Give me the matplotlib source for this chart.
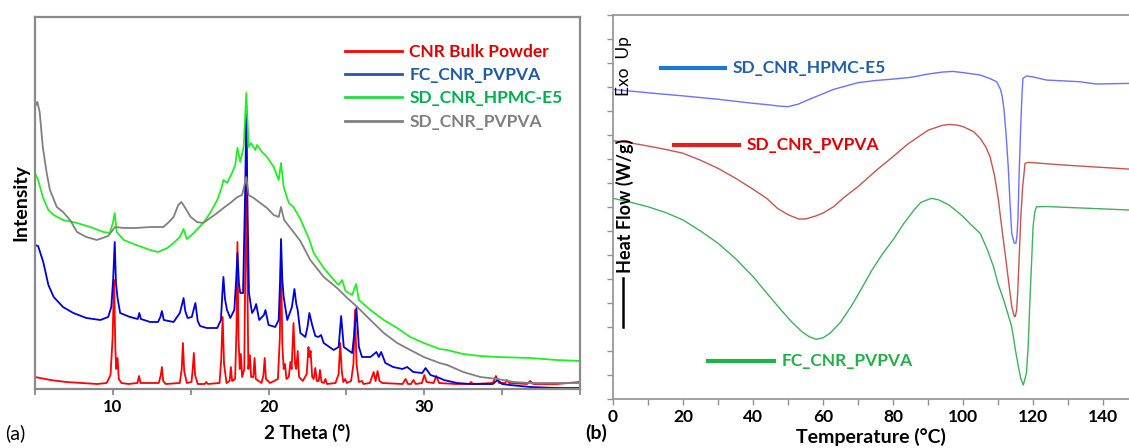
import numpy as np
import matplotlib
matplotlib.use("Agg")
import matplotlib.pyplot as plt

plt.rcParams['font.family'] = ['Lato', 'DejaVu Sans']

# ---------------- XRD data (2 theta, intensity a.u.) ----------------
cnr_bulk = [(5.0, 12), (6.0, 9), (7.0, 7), (8.0, 6), (9.0, 5), (9.6, 6), (9.85, 14), (9.98, 50),
            (10.08, 109), (10.16, 40), (10.22, 20), (10.3, 31), (10.38, 10), (10.55, 6), (11.0, 5),
            (11.58, 6), (11.68, 13), (11.78, 6), (12.95, 6), (13.08, 14), (13.15, 22), (13.23, 8),
            (13.4, 5), (14.3, 6), (14.42, 20), (14.5, 46), (14.58, 18), (14.75, 6), (15.05, 7),
            (15.13, 20), (15.2, 36), (15.28, 14), (15.45, 5), (15.9, 5), (16.0, 7), (16.1, 5),
            (16.85, 6), (16.96, 30), (17.05, 72), (17.14, 25), (17.3, 6), (17.5, 8), (17.58, 22),
            (17.66, 8), (17.85, 10), (17.94, 60), (18.0, 147), (18.07, 50), (18.15, 20), (18.22, 35),
            (18.3, 12), (18.44, 20), (18.52, 150), (18.57, 277), (18.62, 140), (18.7, 20), (18.8, 34),
            (18.88, 12), (19.02, 12), (19.1, 31), (19.18, 10), (19.55, 6), (19.67, 14), (19.75, 31),
            (19.83, 10), (20.1, 6), (20.6, 10), (20.72, 50), (20.8, 134), (20.88, 45), (20.97, 20),
            (21.05, 25), (21.15, 10), (21.3, 12), (21.4, 27), (21.48, 20), (21.6, 66), (21.7, 25),
            (21.78, 20), (21.87, 38), (21.96, 12), (22.2, 8), (22.45, 15), (22.56, 42), (22.63, 32),
            (22.7, 38), (22.8, 12), (22.9, 10), (23.0, 21), (23.1, 8), (23.22, 8), (23.3, 19),
            (23.4, 7), (23.55, 6), (23.65, 10), (23.75, 5), (24.3, 6), (24.5, 15), (24.6, 46),
            (24.7, 18), (24.8, 7), (24.92, 10), (25.02, 6), (25.3, 8), (25.45, 25), (25.55, 79),
            (25.65, 25), (25.8, 7), (26.0, 8), (26.1, 5), (26.5, 6), (26.75, 17), (26.87, 8),
            (27.0, 18), (27.12, 8), (27.3, 6), (28.6, 5), (28.8, 10), (28.95, 5), (29.15, 5),
            (29.3, 9), (29.45, 5), (29.85, 6), (30.0, 14), (30.15, 7), (30.6, 6), (30.77, 13),
            (30.95, 6), (32.0, 5), (32.9, 5), (33.0, 7), (33.15, 5), (34.4, 6), (34.6, 13), (34.8, 6),
            (35.2, 6), (35.3, 9), (35.45, 6), (36.6, 5), (36.8, 8), (37.0, 5), (38.5, 5), (40.0, 7)]

fc_pvpva = [(5.0, 144), (5.2, 143), (5.53, 127), (5.86, 104), (6.2, 92), (6.8, 82), (7.46, 76),
            (8.3, 71), (9.2, 69), (9.7, 72), (9.9, 82), (10.02, 110), (10.12, 147), (10.2, 106),
            (10.3, 91), (10.47, 76), (11.1, 72), (11.6, 70), (11.7, 76), (11.8, 70), (12.4, 67),
            (12.9, 67), (13.05, 72), (13.15, 78), (13.27, 69), (13.9, 67), (14.3, 76), (14.45, 85),
            (14.54, 91), (14.65, 78), (14.8, 71), (15.07, 72), (15.2, 80), (15.3, 86), (15.45, 68),
            (15.6, 63), (16.04, 61), (16.7, 61), (16.94, 69), (17.03, 95), (17.1, 112), (17.2, 90),
            (17.33, 79), (17.54, 71), (17.8, 79), (17.92, 110), (18.0, 136), (18.1, 105), (18.18, 96),
            (18.36, 96), (18.5, 200), (18.57, 276), (18.65, 180), (18.74, 96), (18.94, 76), (19.1, 80),
            (19.2, 85), (19.4, 69), (19.7, 74), (19.8, 79), (20.0, 64), (20.43, 62), (20.65, 69),
            (20.74, 110), (20.8, 150), (20.88, 110), (20.97, 92), (21.2, 69), (21.5, 82), (21.66, 100),
            (21.78, 85), (21.87, 79), (22.04, 56), (22.36, 52), (22.5, 62), (22.62, 76), (22.8, 64),
            (23.0, 53), (23.2, 52), (23.37, 54), (23.54, 46), (24.18, 39), (24.5, 42), (24.66, 73),
            (24.83, 42), (25.37, 36), (25.5, 55), (25.64, 81), (25.8, 42), (26.0, 32), (26.54, 32),
            (26.93, 37), (27.08, 32), (27.23, 37), (27.5, 26), (28.0, 22), (28.6, 20), (28.9, 22),
            (29.3, 17), (29.87, 16), (30.08, 21), (30.4, 14), (30.98, 11), (31.26, 9), (32.1, 6),
            (32.97, 5), (33.8, 5), (34.4, 5), (34.7, 9), (35.0, 5), (35.5, 4), (36.8, 2), (38.5, 1),
            (40.0, 1)]

sd_hpmc = [(5.0, 216), (5.2, 209), (5.5, 192), (5.86, 179), (6.2, 174), (6.8, 169), (7.7, 166),
           (8.54, 162), (9.4, 157), (9.8, 156), (10.0, 166), (10.12, 176), (10.25, 157), (10.7, 149),
           (11.5, 144), (12.4, 139), (12.9, 137), (13.5, 141), (13.9, 146), (14.3, 152), (14.54, 160),
           (14.75, 150), (15.2, 156), (15.8, 166), (16.25, 176), (16.7, 189), (17.0, 202), (17.1, 209),
           (17.33, 206), (17.65, 216), (17.86, 224), (18.0, 241), (18.18, 227), (18.4, 242),
           (18.57, 296), (18.72, 242), (18.87, 246), (19.15, 239), (19.26, 244), (19.58, 237),
           (19.9, 232), (20.33, 222), (20.65, 209), (20.8, 226), (20.97, 202), (21.3, 186),
           (21.6, 182), (22.04, 170), (22.6, 150), (22.9, 136), (23.54, 121), (24.2, 109),
           (24.5, 104), (24.72, 109), (24.94, 98), (25.37, 94), (25.62, 105), (25.8, 89), (26.54, 79),
           (27.4, 69), (28.26, 61), (29.1, 52), (29.97, 46), (30.98, 40), (31.47, 39), (32.5, 35),
           (33.6, 33), (34.7, 32), (36.8, 31), (38.5, 29), (40.0, 28)]

sd_pvpva = [(5.0, 282), (5.15, 287), (5.3, 277), (5.5, 242), (5.75, 216), (5.96, 199), (6.4, 182),
            (6.8, 177), (7.25, 169), (7.7, 157), (8.3, 152), (8.97, 149), (9.7, 153), (10.14, 162),
            (10.7, 161), (11.5, 161), (12.4, 162), (13.25, 162), (13.6, 167), (13.9, 172), (14.2, 184),
            (14.4, 187), (14.65, 181), (15.0, 172), (15.4, 167), (15.8, 166), (16.25, 171), (16.7, 176),
            (17.1, 181), (17.54, 186), (18.0, 192), (18.3, 194), (18.57, 212), (18.72, 194),
            (19.04, 191), (19.47, 186), (19.9, 181), (20.33, 174), (20.65, 172), (20.8, 182),
            (21.0, 169), (21.5, 159), (22.04, 148), (22.68, 129), (23.54, 112), (24.4, 101),
            (25.05, 91), (25.7, 82), (26.54, 69), (27.4, 56), (28.26, 46), (29.1, 39), (29.97, 32),
            (30.98, 26), (31.47, 24), (32.5, 17), (33.6, 12), (34.7, 10), (35.76, 7), (36.8, 6),
            (38.5, 6), (40.0, 6)]

xrd_labels = ['CNR Bulk Powder', 'FC_CNR_PVPVA', 'SD_CNR_HPMC-E5', 'SD_CNR_PVPVA']

# ---------------- DSC data (temperature C, heat flow a.u.) ----------------
dsc_hpmc = [(0, 12.90), (10, 12.76), (20, 12.63), (30, 12.49), (40, 12.32), (45, 12.25), (47, 12.21),
            (50, 12.18), (53, 12.29), (55, 12.42), (58, 12.6), (60, 12.72), (63, 12.9), (66, 13.02),
            (70, 13.18), (75, 13.27), (80, 13.33), (85, 13.40), (90, 13.54), (94, 13.62), (97, 13.65),
            (100, 13.6), (104.9, 13.5), (107.7, 13.35), (109.6, 13.22), (110.7, 12.9), (111.2, 12.6),
            (111.7, 12.04), (112.3, 11.0), (112.9, 9.68), (113.4, 8.2), (113.9, 6.9), (114.6, 6.5),
            (115.1, 6.49), (115.4, 6.8), (115.7, 7.6), (116.0, 9.3), (116.4, 11.07), (116.8, 12.6),
            (117.1, 13.36), (118.1, 13.46), (120, 13.42), (123.8, 13.29), (133.3, 13.22),
            (138, 13.125), (147.4, 13.15)]

dsc_sd_pvpva = [(0, 10.76), (5, 10.67), (10, 10.54), (15, 10.4), (20, 10.24), (25, 9.95), (30, 9.61),
                (35, 9.2), (40, 8.74), (44, 8.35), (47, 7.94), (50, 7.68), (53, 7.5), (55, 7.5),
                (58, 7.63), (60, 7.75), (63, 8.01), (66, 8.4), (70, 8.85), (75, 9.5), (80, 10.1),
                (84, 10.6), (88, 11.0), (90, 11.2), (92, 11.3), (94, 11.4), (96, 11.44), (98, 11.42),
                (100, 11.35), (103, 11.14), (104.9, 10.86), (106.5, 10.5), (107.7, 10.1), (109, 9.3),
                (110.1, 8.29), (111, 7.2), (112, 6.07), (113, 4.9), (113.9, 3.85), (114.6, 3.45),
                (114.9, 3.43), (115.3, 3.7), (115.6, 4.4), (116, 5.8), (116.5, 7.6), (117, 8.8),
                (117.7, 9.82), (118.7, 9.86), (128.6, 9.75), (147.4, 9.58)]

dsc_fc_pvpva = [(0, 8.36), (5, 8.2), (10, 8.01), (15, 7.77), (20, 7.46), (25, 7.0), (30, 6.49),
                (35, 5.85), (40, 5.1), (44, 4.4), (48, 3.71), (51, 3.22), (54, 2.8), (56, 2.6),
                (58, 2.49), (60, 2.55), (62, 2.74), (65, 3.2), (68, 3.85), (71, 4.6), (74, 5.38),
                (77, 6.05), (80, 6.63), (83, 7.3), (86, 7.875), (88, 8.2), (91, 8.36), (93, 8.3),
                (96, 8.08), (98, 7.85), (100, 7.6), (102, 7.3), (104.9, 6.9), (107, 6.2), (108.7, 5.51),
                (110, 4.8), (111.6, 4.125), (112.8, 3.55), (113.9, 3.01), (115, 2.0), (115.8, 1.35),
                (116.5, 0.85), (117.2, 0.58), (118.1, 1.07), (118.6, 2.2), (119.1, 4.125), (119.6, 5.8),
                (120.0, 7.18), (120.5, 7.8), (121, 8.01), (124, 8.02), (128.6, 7.99), (147.4, 7.875)]

dsc_labels = ['SD_CNR_HPMC-E5', 'SD_CNR_PVPVA', 'FC_CNR_PVPVA']
# legend line start/end and y position, in data units
dsc_key_pos = [(13.7, 32.0, 13.8), (17.4, 36.0, 10.58), (27.2, 45.9, 1.58)]

fig = plt.figure(figsize=(11.29, 4.48), dpi=100)

# ---------------- (a) XRD ----------------
ax1 = fig.add_axes([35/1129, 59/448, 545/1129, 372/448])
xrd_cols = ['#ff0000', '#0000dd', '#22ee22', '#808080']
for series, c, lab in zip([cnr_bulk, fc_pvpva, sd_hpmc, sd_pvpva], xrd_cols, xrd_labels):
    arr = np.array(series)
    ax1.plot(arr[:, 0], arr[:, 1], color=c, lw=1.3, label=lab)

ax1.set_xlim(5, 40)
ax1.set_ylim(0, 372)
ax1.set_yticks([])
ax1.set_xticks([10, 20, 30])
ax1.set_xticks([5, 15, 25, 35, 40], minor=True)
ax1.tick_params(axis='x', which='both', direction='out', length=4, width=1.2, color='#808080',
                labelsize=12)
for lbl in ax1.get_xticklabels():
    lbl.set_fontweight('bold')
for s in ax1.spines.values():
    s.set_color('#8a8a8a')
    s.set_linewidth(1.6)
ax1.set_xlabel('2 Theta (°)', fontsize=13.5, fontweight='bold', labelpad=6)
ax1.set_ylabel('Intensity', fontsize=14, fontweight='bold', labelpad=4)

leg = ax1.legend(loc='upper left', bbox_to_anchor=(0.54, 0.97), frameon=False,
                 handlelength=3.3, handletextpad=0.4, labelspacing=0.42,
                 prop={'weight': 'bold', 'size': 12.5})
leg_text_cols = ['#e00000', '#1f5aa8', '#00b050', '#7f7f7f']
leg_line_cols = ['#ff0000', '#1f5aa8', '#22dd44', '#808080']
for t, lc in zip(leg.get_lines(), leg_line_cols):
    t.set_color(lc)
    t.set_linewidth(2)
for t, tc in zip(leg.get_texts(), leg_text_cols):
    t.set_color(tc)

fig.text(5/1129, 1 - 433/448, '(a)', fontsize=14, va='center', ha='left')

# ---------------- (b) DSC ----------------
ax2 = fig.add_axes([613/1129, 49/448, 516/1129, 384/448])
dsc_cols = ['#6e6eff', '#c85450', '#3cb35c']
for series, c in zip([dsc_hpmc, dsc_sd_pvpva, dsc_fc_pvpva], dsc_cols):
    arr = np.array(series)
    ax2.plot(arr[:, 0], arr[:, 1], color=c, lw=1.0)

key_line_cols = ['#1e78d0', '#e02020', '#22b04a']
key_text_cols = ['#1f5fae', '#e00000', '#22b04a']
for (x0, x1, y), lab, lc, tc in zip(dsc_key_pos, dsc_labels, key_line_cols, key_text_cols):
    ax2.plot([x0, x1], [y, y], color=lc, lw=3)
    ax2.text(x1 + 2.2, y, lab, color=tc, fontsize=12.5, fontweight='bold', va='center', ha='left')

ax2.set_xlim(0, 147.4)
ax2.set_ylim(0, 16)
ax2.set_xticks(np.arange(0, 141, 20))
ax2.set_xticks(np.arange(10, 141, 20), minor=True)
ax2.set_yticks(np.arange(0, 17, 1))
ax2.set_yticklabels([])
ax2.tick_params(axis='both', which='both', direction='out', length=4, width=1, color='#909090',
                labelsize=12.5)
for lbl in ax2.get_xticklabels():
    lbl.set_fontweight('bold')
ax2.spines['right'].set_visible(False)
for s in ['top', 'left', 'bottom']:
    ax2.spines[s].set_color('#9a9a9a')
    ax2.spines[s].set_linewidth(1.3)
ax2.set_xlabel('Temperature (°C)', fontsize=14, fontweight='bold', labelpad=2)

# rotated annotations inside the DSC box
ax2.text(0.021, 0.868, 'Exo  Up', transform=ax2.transAxes, rotation=90, fontsize=12.5,
         va='center', ha='center')
ax2.text(0.024, 0.503, 'Heat Flow (W/g)', transform=ax2.transAxes, rotation=90, fontsize=13,
         fontweight='bold', va='center', ha='center')
ax2.plot([0.02, 0.02], [0.188, 0.315], transform=ax2.transAxes, color='black', lw=1.8,
         clip_on=False)

fig.text(585/1129, 1 - 433/448, '(b)', fontsize=14, fontweight='bold', va='center', ha='left')

fig.savefig('out.png', dpi=100)
